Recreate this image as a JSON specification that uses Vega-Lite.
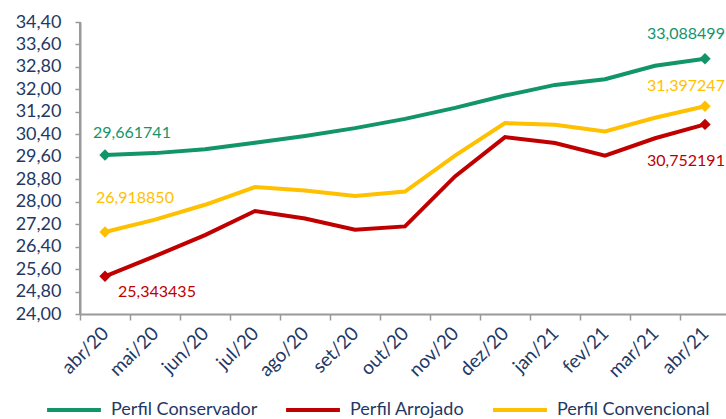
{
  "$schema": "https://vega.github.io/schema/vega-lite/v6.json",
  "width": 645,
  "height": 292,
  "autosize": "none",
  "padding": {"left": 80, "top": 22, "right": 1, "bottom": 105},
  "config": {
    "locale": {"number": {"decimal": ",", "thousands": ".", "grouping": [3], "currency": ["R$", ""]}},
    "view": {"stroke": null},
    "font": "Lato"
  },
  "data": {
    "values": [
      {"month": "abr/20", "series": "Perfil Conservador", "value": 29.661741},
      {"month": "mai/20", "series": "Perfil Conservador", "value": 29.73},
      {"month": "jun/20", "series": "Perfil Conservador", "value": 29.87},
      {"month": "jul/20", "series": "Perfil Conservador", "value": 30.10},
      {"month": "ago/20", "series": "Perfil Conservador", "value": 30.34},
      {"month": "set/20", "series": "Perfil Conservador", "value": 30.62},
      {"month": "out/20", "series": "Perfil Conservador", "value": 30.95},
      {"month": "nov/20", "series": "Perfil Conservador", "value": 31.34},
      {"month": "dez/20", "series": "Perfil Conservador", "value": 31.78},
      {"month": "jan/21", "series": "Perfil Conservador", "value": 32.16},
      {"month": "fev/21", "series": "Perfil Conservador", "value": 32.36},
      {"month": "mar/21", "series": "Perfil Conservador", "value": 32.84},
      {"month": "abr/21", "series": "Perfil Conservador", "value": 33.088499},
      {"month": "abr/20", "series": "Perfil Arrojado", "value": 25.343435},
      {"month": "mai/20", "series": "Perfil Arrojado", "value": 26.06},
      {"month": "jun/20", "series": "Perfil Arrojado", "value": 26.81},
      {"month": "jul/20", "series": "Perfil Arrojado", "value": 27.67},
      {"month": "ago/20", "series": "Perfil Arrojado", "value": 27.40},
      {"month": "set/20", "series": "Perfil Arrojado", "value": 27.00},
      {"month": "out/20", "series": "Perfil Arrojado", "value": 27.12},
      {"month": "nov/20", "series": "Perfil Arrojado", "value": 28.90},
      {"month": "dez/20", "series": "Perfil Arrojado", "value": 30.30},
      {"month": "jan/21", "series": "Perfil Arrojado", "value": 30.09},
      {"month": "fev/21", "series": "Perfil Arrojado", "value": 29.64},
      {"month": "mar/21", "series": "Perfil Arrojado", "value": 30.26},
      {"month": "abr/21", "series": "Perfil Arrojado", "value": 30.752191},
      {"month": "abr/20", "series": "Perfil Convencional", "value": 26.918850},
      {"month": "mai/20", "series": "Perfil Convencional", "value": 27.36},
      {"month": "jun/20", "series": "Perfil Convencional", "value": 27.89},
      {"month": "jul/20", "series": "Perfil Convencional", "value": 28.52},
      {"month": "ago/20", "series": "Perfil Convencional", "value": 28.40},
      {"month": "set/20", "series": "Perfil Convencional", "value": 28.20},
      {"month": "out/20", "series": "Perfil Convencional", "value": 28.36},
      {"month": "nov/20", "series": "Perfil Convencional", "value": 29.64},
      {"month": "dez/20", "series": "Perfil Convencional", "value": 30.80},
      {"month": "jan/21", "series": "Perfil Convencional", "value": 30.74},
      {"month": "fev/21", "series": "Perfil Convencional", "value": 30.50},
      {"month": "mar/21", "series": "Perfil Convencional", "value": 30.99},
      {"month": "abr/21", "series": "Perfil Convencional", "value": 31.397247}
    ]
  },
  "encoding": {
    "x": {
      "field": "month", "type": "ordinal", "sort": null,
      "scale": {"type": "band", "range": [0, 650], "paddingInner": 0, "paddingOuter": 0},
      "axis": {
        "title": null, "tickBand": "extent", "labelAngle": -45, "labelAlign": "right", "labelBaseline": "middle",
        "labelPadding": 10, "labelFontSize": 19, "labelColor": "#1F3864", "labelFont": "Lato",
        "domain": true, "ticks": true,
        "domainColor": "#999999", "domainWidth": 2, "tickColor": "#999999", "tickWidth": 1.5, "tickSize": 6, "grid": false
      }
    },
    "y": {
      "field": "value", "type": "quantitative",
      "scale": {"domain": [24, 34.4], "nice": false, "zero": false},
      "axis": {
        "title": null, "values": [24, 24.8, 25.6, 26.4, 27.2, 28, 28.8, 29.6, 30.4, 31.2, 32, 32.8, 33.6, 34.4],
        "format": ".2f", "labelFontSize": 18, "labelColor": "#1F3864", "labelFont": "Lato", "labelPadding": 14,
        "domain": true, "ticks": true,
        "domainColor": "#999999", "domainWidth": 2, "tickColor": "#999999", "tickWidth": 1.5, "tickSize": 5, "grid": false
      }
    },
    "color": {
      "field": "series", "type": "nominal",
      "scale": {"domain": ["Perfil Conservador", "Perfil Arrojado", "Perfil Convencional"], "range": ["#12956B", "#C00000", "#FFC000"]},
      "legend": {
        "title": null, "orient": "none", "legendX": -35, "legendY": 359, "direction": "horizontal",
        "symbolType": "stroke", "symbolSize": 2900, "symbolStrokeWidth": 4, "labelFontSize": 18, "labelColor": "#1F3864",
        "labelFont": "Lato", "labelOffset": 8, "columnPadding": 20
      }
    }
  },
  "layer": [
    {
      "mark": {"type": "rule", "color": "#999999", "strokeWidth": 2},
      "encoding": {
        "x": {"datum": "abr/20", "bandPosition": 0},
        "y": {"datum": 24},
        "y2": {"datum": 34.4},
        "color": {"value": "#999999"}
      }
    },
    {"mark": {"type": "line", "strokeWidth": 4}},
    {
      "transform": [{"filter": {"field": "month", "oneOf": ["abr/20", "abr/21"]}}],
      "mark": {"type": "point", "shape": "diamond", "filled": true, "size": 130, "opacity": 1}
    },
    {
      "transform": [{"filter": "datum.series == 'Perfil Conservador' && datum.month == 'abr/20'"}],
      "mark": {"type": "text", "dx": 27, "dy": -22, "fontSize": 16, "font": "Lato"},
      "encoding": {"text": {"field": "value", "format": ".6f"}}
    },
    {
      "transform": [{"filter": "datum.series == 'Perfil Convencional' && datum.month == 'abr/20'"}],
      "mark": {"type": "text", "dx": 30, "dy": -34, "fontSize": 16, "font": "Lato"},
      "encoding": {"text": {"field": "value", "format": ".6f"}}
    },
    {
      "transform": [{"filter": "datum.series == 'Perfil Arrojado' && datum.month == 'abr/20'"}],
      "mark": {"type": "text", "dx": 52, "dy": 16, "fontSize": 16, "font": "Lato"},
      "encoding": {"text": {"field": "value", "format": ".6f"}}
    },
    {
      "transform": [{"filter": "datum.series == 'Perfil Conservador' && datum.month == 'abr/21'"}],
      "mark": {"type": "text", "dx": -19, "dy": -25, "fontSize": 16, "font": "Lato"},
      "encoding": {"text": {"field": "value", "format": ".6f"}}
    },
    {
      "transform": [{"filter": "datum.series == 'Perfil Convencional' && datum.month == 'abr/21'"}],
      "mark": {"type": "text", "dx": -19, "dy": -20, "fontSize": 16, "font": "Lato"},
      "encoding": {"text": {"field": "value", "format": ".6f"}}
    },
    {
      "transform": [{"filter": "datum.series == 'Perfil Arrojado' && datum.month == 'abr/21'"}],
      "mark": {"type": "text", "dx": -19, "dy": 37, "fontSize": 16, "font": "Lato"},
      "encoding": {"text": {"field": "value", "format": ".6f"}}
    }
  ]
}
